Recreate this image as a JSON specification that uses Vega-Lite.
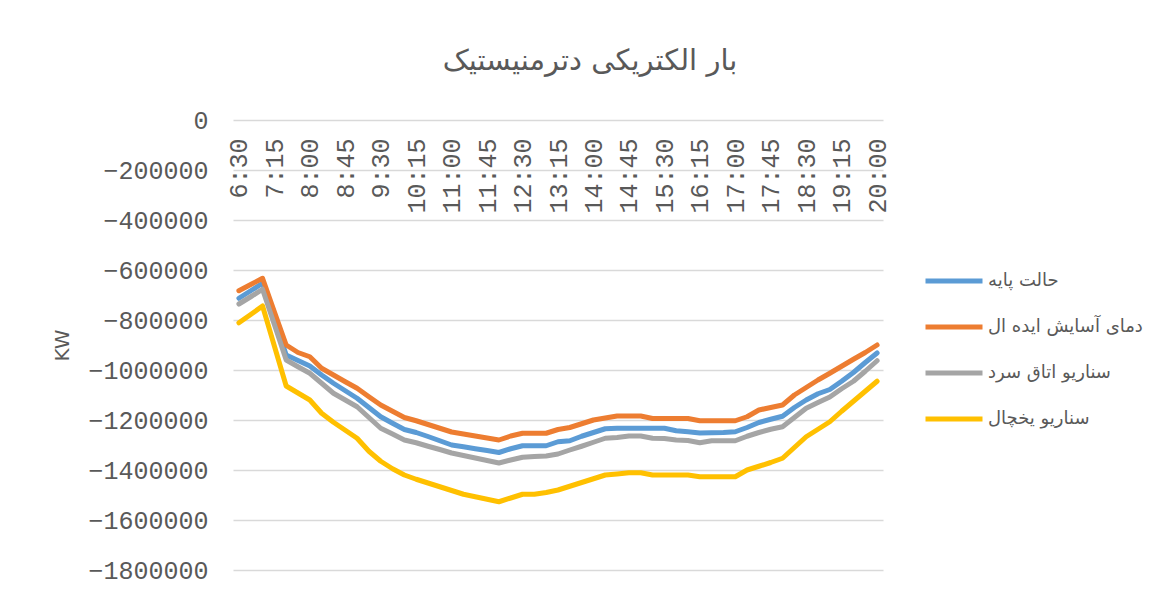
{
  "$schema": "https://vega.github.io/schema/vega-lite/v6.json",
  "width": 650,
  "height": 450,
  "autosize": {"type": "none"},
  "padding": {"left": 233, "top": 120, "right": 266, "bottom": 24},
  "background": "white",
  "title": {
    "text": "بار الکتریکی دترمنیستیک",
    "font": "DejaVu Sans",
    "fontSize": 29,
    "fontWeight": "normal",
    "color": "#595959",
    "anchor": "middle",
    "frame": "group",
    "dx": 32,
    "offset": 32
  },
  "data": {
    "values": [
      {"t": "6:30", "b": -713000, "o": -683000, "g": -736000, "y": -811000},
      {"t": "6:45", "b": -683000, "o": -658000, "g": -707000, "y": -778000},
      {"t": "7:00", "b": -653000, "o": -633000, "g": -677000, "y": -744000},
      {"t": "7:15", "b": -797000, "o": -767000, "g": -818000, "y": -904000},
      {"t": "7:30", "b": -940000, "o": -900000, "g": -960000, "y": -1064000},
      {"t": "7:45", "b": -962000, "o": -930000, "g": -987000, "y": -1092000},
      {"t": "8:00", "b": -984000, "o": -947000, "g": -1013000, "y": -1120000},
      {"t": "8:15", "b": -1020000, "o": -993000, "g": -1053000, "y": -1173000},
      {"t": "8:30", "b": -1053000, "o": -1020000, "g": -1093000, "y": -1209000},
      {"t": "8:45", "b": -1083000, "o": -1047000, "g": -1120000, "y": -1241000},
      {"t": "9:00", "b": -1113000, "o": -1073000, "g": -1147000, "y": -1273000},
      {"t": "9:15", "b": -1150000, "o": -1107000, "g": -1190000, "y": -1325000},
      {"t": "9:30", "b": -1187000, "o": -1140000, "g": -1233000, "y": -1365000},
      {"t": "9:45", "b": -1213000, "o": -1165000, "g": -1256000, "y": -1395000},
      {"t": "10:00", "b": -1238000, "o": -1190000, "g": -1280000, "y": -1420000},
      {"t": "10:15", "b": -1250000, "o": -1203000, "g": -1291000, "y": -1437000},
      {"t": "10:30", "b": -1266000, "o": -1218000, "g": -1305000, "y": -1452000},
      {"t": "10:45", "b": -1283000, "o": -1233000, "g": -1318000, "y": -1467000},
      {"t": "11:00", "b": -1300000, "o": -1248000, "g": -1332000, "y": -1482000},
      {"t": "11:15", "b": -1307000, "o": -1256000, "g": -1342000, "y": -1497000},
      {"t": "11:30", "b": -1315000, "o": -1264000, "g": -1352000, "y": -1507000},
      {"t": "11:45", "b": -1322000, "o": -1272000, "g": -1362000, "y": -1517000},
      {"t": "12:00", "b": -1330000, "o": -1280000, "g": -1372000, "y": -1527000},
      {"t": "12:15", "b": -1315000, "o": -1264000, "g": -1360000, "y": -1512000},
      {"t": "12:30", "b": -1303000, "o": -1253000, "g": -1349000, "y": -1497000},
      {"t": "12:45", "b": -1303000, "o": -1253000, "g": -1346000, "y": -1497000},
      {"t": "13:00", "b": -1303000, "o": -1253000, "g": -1344000, "y": -1490000},
      {"t": "13:15", "b": -1287000, "o": -1238000, "g": -1336000, "y": -1480000},
      {"t": "13:30", "b": -1283000, "o": -1230000, "g": -1320000, "y": -1465000},
      {"t": "13:45", "b": -1265000, "o": -1215000, "g": -1305000, "y": -1450000},
      {"t": "14:00", "b": -1250000, "o": -1200000, "g": -1289000, "y": -1435000},
      {"t": "14:15", "b": -1235000, "o": -1192000, "g": -1273000, "y": -1420000},
      {"t": "14:30", "b": -1233000, "o": -1184000, "g": -1270000, "y": -1416000},
      {"t": "14:45", "b": -1233000, "o": -1184000, "g": -1264000, "y": -1411000},
      {"t": "15:00", "b": -1233000, "o": -1184000, "g": -1264000, "y": -1411000},
      {"t": "15:15", "b": -1233000, "o": -1194000, "g": -1273000, "y": -1420000},
      {"t": "15:30", "b": -1233000, "o": -1194000, "g": -1274000, "y": -1420000},
      {"t": "15:45", "b": -1243000, "o": -1194000, "g": -1280000, "y": -1420000},
      {"t": "16:00", "b": -1247000, "o": -1194000, "g": -1282000, "y": -1420000},
      {"t": "16:15", "b": -1252000, "o": -1203000, "g": -1291000, "y": -1427000},
      {"t": "16:30", "b": -1251000, "o": -1203000, "g": -1283000, "y": -1427000},
      {"t": "16:45", "b": -1250000, "o": -1203000, "g": -1283000, "y": -1427000},
      {"t": "17:00", "b": -1247000, "o": -1203000, "g": -1283000, "y": -1427000},
      {"t": "17:15", "b": -1230000, "o": -1187000, "g": -1265000, "y": -1400000},
      {"t": "17:30", "b": -1210000, "o": -1160000, "g": -1250000, "y": -1385000},
      {"t": "17:45", "b": -1197000, "o": -1150000, "g": -1237000, "y": -1370000},
      {"t": "18:00", "b": -1185000, "o": -1140000, "g": -1227000, "y": -1353000},
      {"t": "18:15", "b": -1150000, "o": -1100000, "g": -1190000, "y": -1310000},
      {"t": "18:30", "b": -1120000, "o": -1070000, "g": -1153000, "y": -1267000},
      {"t": "18:45", "b": -1095000, "o": -1040000, "g": -1130000, "y": -1237000},
      {"t": "19:00", "b": -1078000, "o": -1013000, "g": -1108000, "y": -1207000},
      {"t": "19:15", "b": -1045000, "o": -985000, "g": -1075000, "y": -1165000},
      {"t": "19:30", "b": -1010000, "o": -957000, "g": -1045000, "y": -1125000},
      {"t": "19:45", "b": -970000, "o": -930000, "g": -1005000, "y": -1085000},
      {"t": "20:00", "b": -932000, "o": -900000, "g": -963000, "y": -1045000}
    ]
  },
  "transform": [{"fold": ["b", "o", "g", "y"], "as": ["s", "v"]}],
  "mark": {"type": "line", "strokeWidth": 5, "strokeCap": "round", "strokeJoin": "round"},
  "encoding": {
    "x": {
      "field": "t",
      "type": "ordinal",
      "sort": null,
      "scale": {"type": "point", "padding": 0.5},
      "axis": {
        "orient": "top",
        "values": ["6:30", "7:15", "8:00", "8:45", "9:30", "10:15", "11:00", "11:45", "12:30", "13:15", "14:00", "14:45", "15:30", "16:15", "17:00", "17:45", "18:30", "19:15", "20:00"],
        "labelAngle": -90,
        "labelAlign": "right",
        "labelBaseline": "middle",
        "labelPadding": -18,
        "labelOverlap": false,
        "labelFlush": false,
        "ticks": false,
        "domain": false,
        "grid": false,
        "title": null,
        "labelFont": "Liberation Mono",
        "labelFontSize": 25,
        "labelColor": "#595959"
      }
    },
    "y": {
      "field": "v",
      "type": "quantitative",
      "scale": {"domain": [-1800000, 0], "nice": false, "zero": false},
      "axis": {
        "values": [0, -200000, -400000, -600000, -800000, -1000000, -1200000, -1400000, -1600000, -1800000],
        "format": "d",
        "grid": true,
        "gridColor": "#d9d9d9",
        "gridWidth": 1.5,
        "domain": false,
        "ticks": false,
        "labelPadding": 25,
        "labelFont": "Liberation Mono",
        "labelFontSize": 25,
        "labelColor": "#595959",
        "title": "KW",
        "titleFont": "DejaVu Sans",
        "titleFontSize": 20,
        "titleFontWeight": "normal",
        "titleColor": "#595959",
        "titleAngle": -90,
        "titleX": -171,
        "titleY": 225,
        "titleAlign": "center",
        "titleBaseline": "middle"
      }
    },
    "color": {
      "field": "s",
      "type": "nominal",
      "scale": {"domain": ["b", "o", "g", "y"], "range": ["#5B9BD5", "#ED7D31", "#A5A5A5", "#FFC000"]},
      "legend": {
        "orient": "none",
        "legendX": 690,
        "legendY": 130,
        "title": null,
        "padding": 0,
        "symbolType": "stroke",
        "symbolSize": 3249,
        "symbolStrokeWidth": 5,
        "rowPadding": 5,
        "labelOffset": 3,
        "labelFont": "DejaVu Sans",
        "labelFontSize": 18,
        "labelColor": "#595959",
        "labelLimit": 300,
        "labelExpr": "{'b': 'حالت پایه', 'o': 'دمای آسایش ایده ال', 'g': 'سناریو اتاق سرد', 'y': 'سناریو یخچال'}[datum.label]"
      }
    }
  },
  "config": {"view": {"stroke": null}}
}
